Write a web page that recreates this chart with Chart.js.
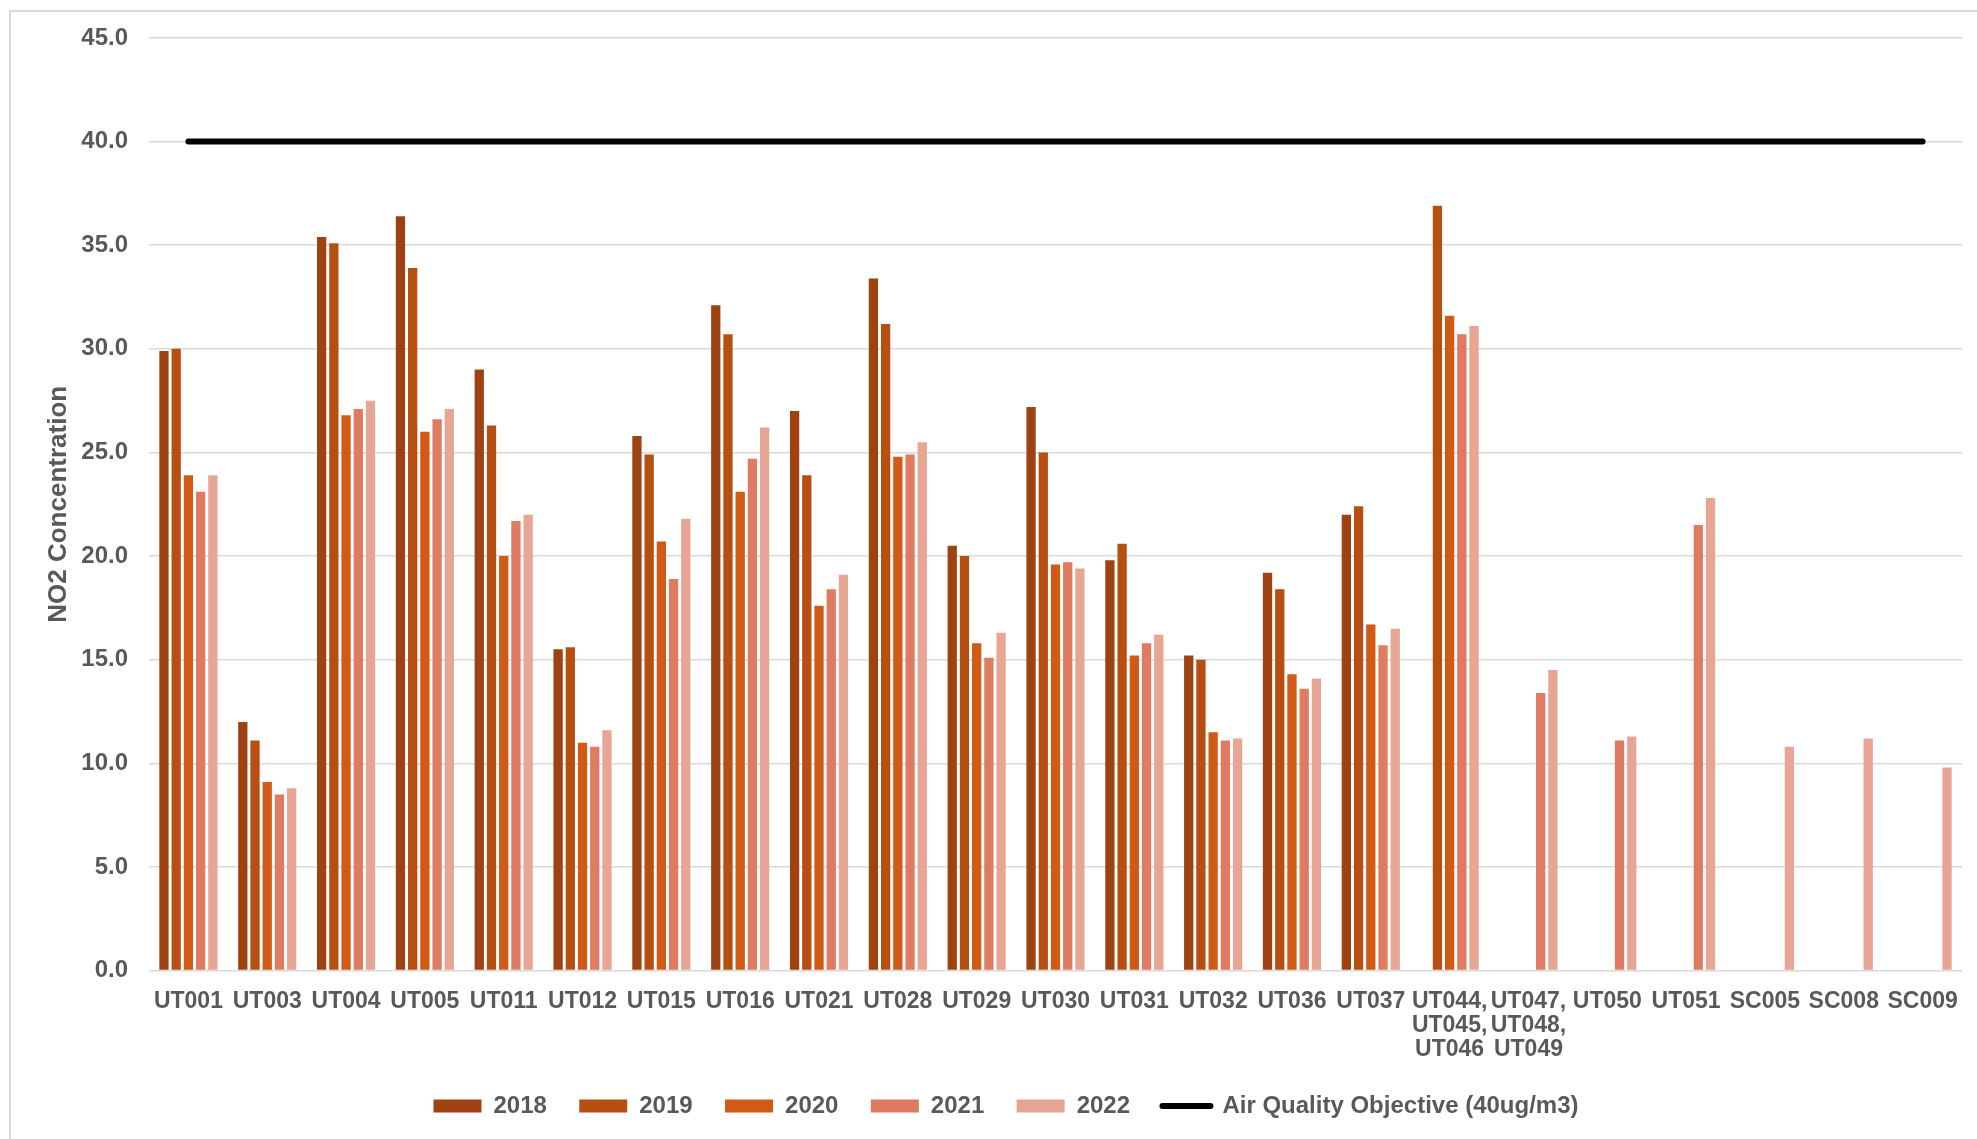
<!DOCTYPE html>
<html>
<head>
<meta charset="utf-8">
<script src="https://cdn.jsdelivr.net/npm/chart.js@4"></script>
<style>
  html, body { margin: 0; padding: 0; background: #ffffff; overflow: hidden; width: 1977px; height: 1139px; }
  #frame { position: absolute; left: 9px; top: 10px; width: 2100px; height: 1200px; border: 2px solid #D9D9D9; box-sizing: border-box; }
  #wrap { position: absolute; left: 11px; top: 12px; width: 1966px; height: 1127px; }
</style>
</head>
<body>
<div id="frame"></div>
<div id="wrap"><canvas id="chart"></canvas></div>
<script>
// Monitoring sites (multi-line labels for the combined triplicate sites)
const sites = [
  'UT001', 'UT003', 'UT004', 'UT005', 'UT011', 'UT012', 'UT015', 'UT016',
  'UT021', 'UT028', 'UT029', 'UT030', 'UT031', 'UT032', 'UT036', 'UT037',
  ['UT044,', 'UT045,', 'UT046'], ['UT047,', 'UT048,', 'UT049'],
  'UT050', 'UT051', 'SC005', 'SC008', 'SC009'
];

// Annual mean NO2 concentrations (ug/m3); null = not monitored that year
const no2_2018 = [29.9, 12.0, 35.4, 36.4, 29.0, 15.5, 25.8, 32.1, 27.0, 33.4, 20.5, 27.2, 19.8, 15.2, 19.2, 22.0, null, null, null, null, null, null, null];
const no2_2019 = [30.0, 11.1, 35.1, 33.9, 26.3, 15.6, 24.9, 30.7, 23.9, 31.2, 20.0, 25.0, 20.6, 15.0, 18.4, 22.4, 36.9, null, null, null, null, null, null];
const no2_2020 = [23.9, 9.1, 26.8, 26.0, 20.0, 11.0, 20.7, 23.1, 17.6, 24.8, 15.8, 19.6, 15.2, 11.5, 14.3, 16.7, 31.6, null, null, null, null, null, null];
const no2_2021 = [23.1, 8.5, 27.1, 26.6, 21.7, 10.8, 18.9, 24.7, 18.4, 24.9, 15.1, 19.7, 15.8, 11.1, 13.6, 15.7, 30.7, 13.4, 11.1, 21.5, null, null, null];
const no2_2022 = [23.9, 8.8, 27.5, 27.1, 22.0, 11.6, 21.8, 26.2, 19.1, 25.5, 16.3, 19.4, 16.2, 11.2, 14.1, 16.5, 31.1, 14.5, 11.3, 22.8, 10.8, 11.2, 9.8];

// Air quality objective, annual mean
const objective = [40, 40, 40, 40, 40, 40, 40, 40, 40, 40, 40, 40, 40, 40, 40, 40, 40, 40, 40, 40, 40, 40, 40];

const yearLabels = ['2018', '2019', '2020', '2021', '2022'];
const yearSeries = [no2_2018, no2_2019, no2_2020, no2_2021, no2_2022];
const yearColours = ['#9E4211', '#B84F12', '#D05A16', '#DE7B61', '#E7A594'];

const yTicks = { min: 0, max: 45, step: 5 };

const FONT = '"Liberation Sans", Arial, Helvetica, sans-serif';
const TEXT = '#595959';

const datasets = yearSeries.map((values, i) => ({
  type: 'bar',
  label: yearLabels[i],
  data: values,
  backgroundColor: yearColours[i],
  borderWidth: 0,
  categoryPercentage: 0.775,
  barPercentage: 0.76
}));

datasets.push({
  type: 'line',
  label: 'Air Quality Objective (40ug/m3)',
  data: objective,
  borderColor: '#000000',
  backgroundColor: '#000000',
  borderWidth: 6,
  borderCapStyle: 'round',
  pointRadius: 0,
  tension: 0
});

new Chart(document.getElementById('chart'), {
  data: { labels: sites, datasets },
  options: {
    responsive: true,
    maintainAspectRatio: false,
    animation: false,
    layout: { padding: { left: 39, right: 15, top: 26, bottom: 11 } },
    plugins: {
      tooltip: { enabled: false },
      legend: {
        position: 'bottom',
        labels: {
          usePointStyle: true,
          pointStyleWidth: 48,
          boxHeight: 13,
          padding: 32.4,
          color: TEXT,
          font: { family: FONT, size: 24, weight: 'bold' },
          generateLabels(chart) {
            const items = Chart.defaults.plugins.legend.labels.generateLabels(chart);
            items.forEach(it => {
              const ds = chart.data.datasets[it.datasetIndex];
              if (ds.type === 'line') {
                it.pointStyle = 'line';
                it.lineWidth = 6;
                it.strokeStyle = '#000000';
                it.lineCap = 'round';
              } else {
                it.pointStyle = 'rect';
                it.lineWidth = 0;
              }
            });
            return items;
          }
        }
      }
    },
    scales: {
      x: {
        grid: { display: false },
        border: { display: false },
        ticks: {
          autoSkip: false,
          maxRotation: 0,
          minRotation: 0,
          padding: 10.5,
          color: TEXT,
          font: { family: FONT, size: 23, weight: 'bold', lineHeight: 1.05 }
        },
        afterFit(scale) { scale.height = 91; }
      },
      y: {
        min: yTicks.min,
        max: yTicks.max,
        border: { display: false },
        grid: { color: '#D9D9D9', lineWidth: 1.5, drawTicks: true, tickLength: 21, tickColor: 'rgba(0,0,0,0)' },
        ticks: {
          stepSize: yTicks.step,
          padding: 0,
          color: TEXT,
          font: { family: FONT, size: 24, weight: 'bold' },
          callback: v => Number(v).toFixed(1)
        },
        title: {
          display: true,
          text: 'NO2 Concentration',
          color: TEXT,
          font: { family: FONT, size: 26, weight: 'bold' },
          padding: { top: -6.6, bottom: 0 }
        },
        afterFit(scale) { scale.width = 99; }
      }
    }
  }
});
</script>
</body>
</html>
